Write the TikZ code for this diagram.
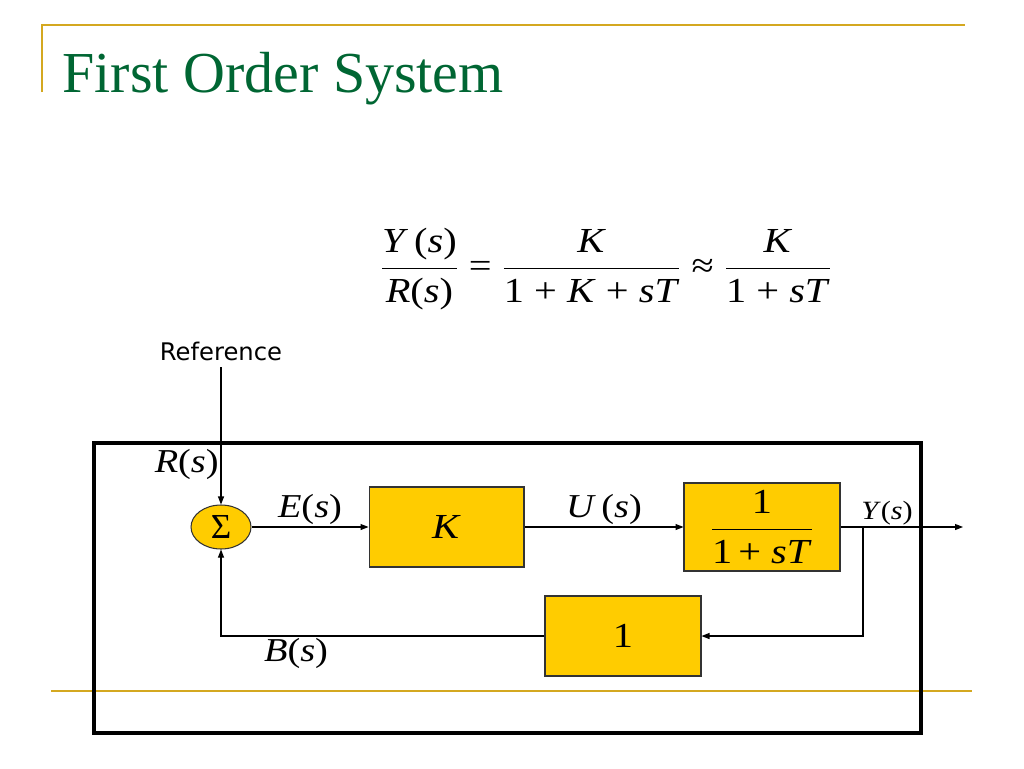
\documentclass[tikz,border=0pt]{standalone}
\usepackage{fontspec}
\setmainfont{Liberation Serif}
\newfontfamily\eqfont[FakeStretch=1.15]{Liberation Serif}
\newfontfamily\reffont{DejaVu Sans}
\usetikzlibrary{positioning,shapes.geometric,arrows.meta}
\definecolor{gold}{RGB}{212,168,32}
\definecolor{blockfill}{RGB}{255,204,0}
\definecolor{titlegreen}{RGB}{0,102,51}
\newcommand{\vr}[1]{\textit{#1}}
\tikzset{
  block/.style={draw=black!80, fill=blockfill, minimum width=3.1cm,
    minimum height=1.6cm, font=\eqfont\fontsize{20}{24}\selectfont},
  summer/.style={ellipse, draw=black!80, fill=blockfill, minimum width=1.2cm,
    minimum height=0.88cm, inner sep=0pt, font=\fontsize{20}{24}\selectfont},
  sig/.style={font=\eqfont\fontsize{19}{23}\selectfont, inner sep=1pt}
}
\begin{document}
\begin{tikzpicture}[x=0.02cm, y=-0.02cm, line width=0.6pt,
    >={Triangle[length=1.6mm,width=1.2mm]}]
   \useasboundingbox (0,0) rectangle (1024,768);
   % slide frame
   \draw[gold, line width=1.6pt] (42,92) -- (42,25) -- (965,25);
   \draw[gold, line width=1.6pt] (51,691) -- (972,691);
   \node (title) [anchor=base west, inner sep=0pt, text=titlegreen,
     font=\fontsize{33}{40}\selectfont] at (62,92) {First Order System};
   % closed loop transfer function
   \node (eq) [font=\eqfont\fontsize{20}{24}\selectfont] at (606,269)
     {$\displaystyle\frac{\mbox{\vr{Y}\,(\vr{s})}}{\mbox{\vr{R}(\vr{s})}}
      \mathrel{\mbox{=}}
      \frac{\mbox{\vr{K}}}{\mbox{1 + \vr{K} + \vr{sT}}}
      \mathrel{\mbox{≈}}
      \frac{\mbox{\vr{K}}}{\mbox{1 + \vr{sT}}}$};
   \draw[line width=2.3pt] (94,443) rectangle (921,733);
   % block diagram
   \node (ref) [font=\reffont\fontsize{13.8}{16}\selectfont] at (221,351) {Reference};
   \coordinate (R) at (221,367);
   \node (S) [summer] at (221,527) {Σ};
   \node (K) [block, right=2.34cm of S] {\vr{K}};
   \node (G) [block, minimum width=3.12cm, minimum height=1.76cm, right=3.18cm of K]
     {$\displaystyle\frac{\mbox{1}}{\mbox{1\,+ \vr{sT}}}$};
   \node (H) [block, minimum width=3.12cm] at (623,636) {1};
   \coordinate (b) at (863,527);
   \coordinate (Y) at (963,527);
   \path[->]
     (R) edge node [sig, left, pos=0.71] {\vr{R}(\vr{s})} (S)
     (S) edge node [sig, above] {\vr{E}(\vr{s})} (K)
     (K) edge node [sig, above] {\vr{U}\,(\vr{s})} (G)
     (G) edge node [sig, above, pos=0.38, font=\eqfont\fontsize{15}{18}\selectfont]
       {\vr{Y}(\vr{s})} (Y);
   \draw[->] (b) |- (H);
   \draw[->] (H) -| node [sig, below, pos=0.384] {\vr{B}(\vr{s})} (S);
  \end{tikzpicture}
\end{document}
